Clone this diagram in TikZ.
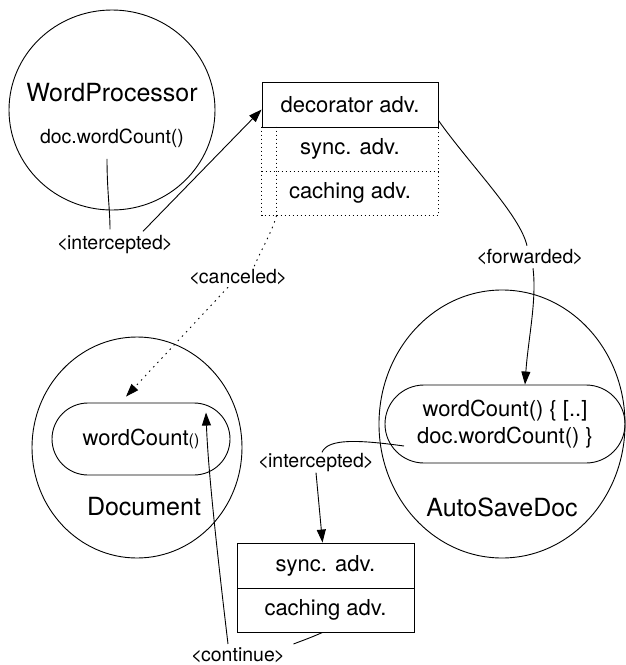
\documentclass[tikz,border=0pt]{standalone}
\usepackage{fontspec}
\setmainfont{TeX Gyre Heros}
\usetikzlibrary{arrows.meta,shapes.geometric,shapes.misc}
\newcommand\angl[1]{<\kern-1.2pt#1\kern-1.2pt>}
\begin{document}
\begin{tikzpicture}[x=1pt,y=-1pt,line width=0.9pt,
  lbl/.style={inner sep=0pt,font=\fontsize{19.5}{19.5}\selectfont},
  big/.style={inner sep=0pt,font=\fontsize{25}{25}\selectfont},
  mid/.style={inner sep=0pt,font=\fontsize{22}{22}\selectfont},
  arr/.style={-{Triangle[length=13pt,width=9pt]}},
  dots/.style={dash pattern=on 1.5pt off 2.5pt},
  sparse/.style={dash pattern=on 1.5pt off 4.5pt},
  cls/.style={draw,ellipse,inner sep=0pt},
  meth/.style={draw,rounded rectangle,inner sep=0pt},
  row/.style={minimum width=176,minimum height=44,inner sep=0pt,font=\fontsize{22}{22}\selectfont}
]
\useasboundingbox (0,0) rectangle (626,665);

% WordProcessor
\node[cls,minimum width=206,minimum height=200] (wp) at (112,110) {};
\node[big] (wpname) at (112,93) {WordProcessor};
\node[lbl] (wpcall) at (112,138) {doc.wordCount()};
\node[lbl] (int1) at (115,245) {\angl{intercepted}};

% decorator stack
\node[row,draw,minimum height=45] (dec) at (350,104.5) {decorator adv.};
\node[row] (sy) at (350,149) {sync. adv.};
\node[row] (ca) at (350,193) {caching adv.};
\draw[dots] (sy.north west) -- (ca.south west) -- (ca.south east) -- (sy.north east);
\draw[dots] (sy.south west) -- (sy.south east);
\draw[dots] ([xshift=15pt]sy.north west) -- ([xshift=15pt]ca.south west);

% labels
\node[lbl] (canc) at (238,277) {\angl{canceled}};
\node[lbl] (fwd) at (530,257) {\angl{forwarded}};

% AutoSaveDoc
\node[cls,minimum width=246,minimum height=268] (asd) at (502,424) {};
\node[meth,minimum width=240,minimum height=78,align=center,font=\fontsize{22}{27}\selectfont] (asm) at (505,424) {wordCount() \{ [..]\\doc.wordCount() \}};
\node[big] (asdn) at (502,507) {AutoSaveDoc};

% Document
\node[cls,minimum width=210,minimum height=221] (doc) at (137,447.5) {};
\node[meth,minimum width=178,minimum height=72,font=\fontsize{22}{22}\selectfont] (docm) at (141,439) {wordCount{\fontsize{16}{16}\selectfont()}};
\node[big] (docn) at (144,507) {Document};

% lower stack
\node[row,draw,minimum width=177,minimum height=45] (lsy) at (325.5,565.5) {sync. adv.};
\node[row,draw,minimum width=177,minimum height=44] (lca) at (325.5,610) {caching adv.};
\node[lbl] (int2) at (316,463) {\angl{intercepted}};
\node[lbl] (cont) at (238,655) {\angl{continue}};

% connectors
\draw ([shift={(-5,11)}]wpcall.south) .. controls (107,190) and (110,210) .. ([shift={(-5,-6)}]int1.north);
\draw[arr] ([shift={(28,-4)}]int1.north) -- ([yshift=-5pt]dec.west);

\draw[sparse] ([xshift=15pt]ca.south west) .. controls (272,232) and (262,248) .. ([shift={(16,-2)}]canc.north);
\draw[sparse,arr] ([shift={(-10,2)}]canc.south) -- ([shift={(38,-6)}]docm.north west);

\draw ([yshift=7pt]dec.south east) .. controls (470,165) and (520,215) .. ([shift={(-3,-3)}]fwd.north);
\draw[arr] ([shift={(3,3)}]fwd.south) .. controls (537,300) and (528,340) .. ([xshift=20pt]asm.north);

\draw ([shift={(-101,22)}]asm.center) .. controls (360,440) and (328,438) .. ([shift={(6,-1)}]int2.north);
\draw[arr] (int2.south) -- ([xshift=-3pt]lsy.north);

\draw ([xshift=-3pt]lca.south) .. controls (312,637) .. ([shift={(8,-3)}]cont.north east);
\draw[arr] ([shift={(-10,-3)}]cont.north) .. controls (218,560) and (208,470) .. ([shift={(65,10)}]docm.north);
\end{tikzpicture}
\end{document}
